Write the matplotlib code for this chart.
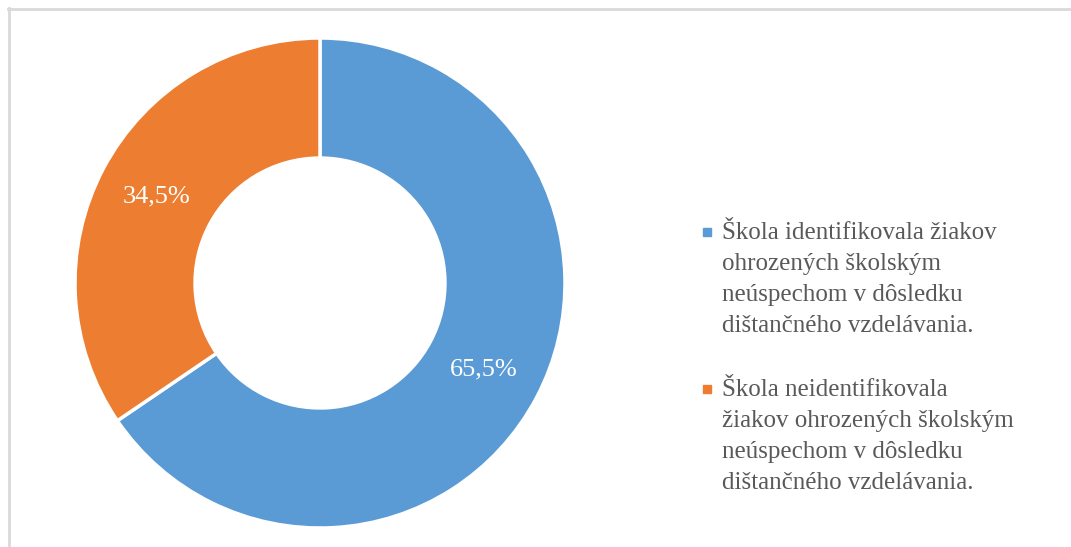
import matplotlib.pyplot as plt
from matplotlib.lines import Line2D
from matplotlib.patches import Rectangle

labels = [
    "Škola identifikovala žiakov\nohrozených školským\nneúspechom v dôsledku\ndištančného vzdelávania.",
    "Škola neidentifikovala\nžiakov ohrozených školským\nneúspechom v dôsledku\ndištančného vzdelávania.",
]
shares = [65.5, 34.5]
colors = ["#5B9BD5", "#ED7D31"]

plt.rcParams['font.family'] = ['Liberation Serif', 'DejaVu Serif']

W, H = 1071, 547
fig = plt.figure(figsize=(W / 100, H / 100), dpi=100)

# light frame of the chart area (top and left edges visible)
fig.add_artist(Line2D([8 / W, 1.0], [1 - 8.5 / H] * 2, color="#D9D9D9", lw=2))
fig.add_artist(Line2D([8.5 / W] * 2, [0, 1 - 8 / H], color="#D9D9D9", lw=2))

# pie axes: centre (320, 283), outer radius 245 px
cx, cy, r = 320, 283, 245
ax = fig.add_axes([(cx - r) / W, 1 - (cy + r) / H, 2 * r / W, 2 * r / H])
wedges, texts, autotexts = ax.pie(
    shares, colors=colors, startangle=90, counterclock=False,
    autopct=lambda p: f"{p:.1f}%".replace(".", ","), pctdistance=0.755,
    wedgeprops=dict(width=0.49, edgecolor="white", linewidth=2.5),
    textprops=dict(color="white", fontsize=19),
    radius=1.0,
)
ax.set_xlim(-1, 1)
ax.set_ylim(-1, 1)
ax.set_aspect("equal")
ax.axis("off")

# legend drawn by hand so the marker sits on the first text line
first_line_y = [232, 389]
line_h = 31.5
for lab, col, y0 in zip(labels, colors, first_line_y):
    fig.add_artist(Rectangle((703 / W, 1 - (y0 + 4) / H), 8 / W, 8 / H,
                             color=col, transform=fig.transFigure))
    nlines = lab.count("\n") + 1
    yc = y0 + (nlines - 1) * line_h / 2
    fig.text(722 / W, 1 - yc / H, lab, fontsize=18, color="#595959",
             va="center", ha="left", linespacing=1.53)

fig.savefig("out.png", dpi=100)
